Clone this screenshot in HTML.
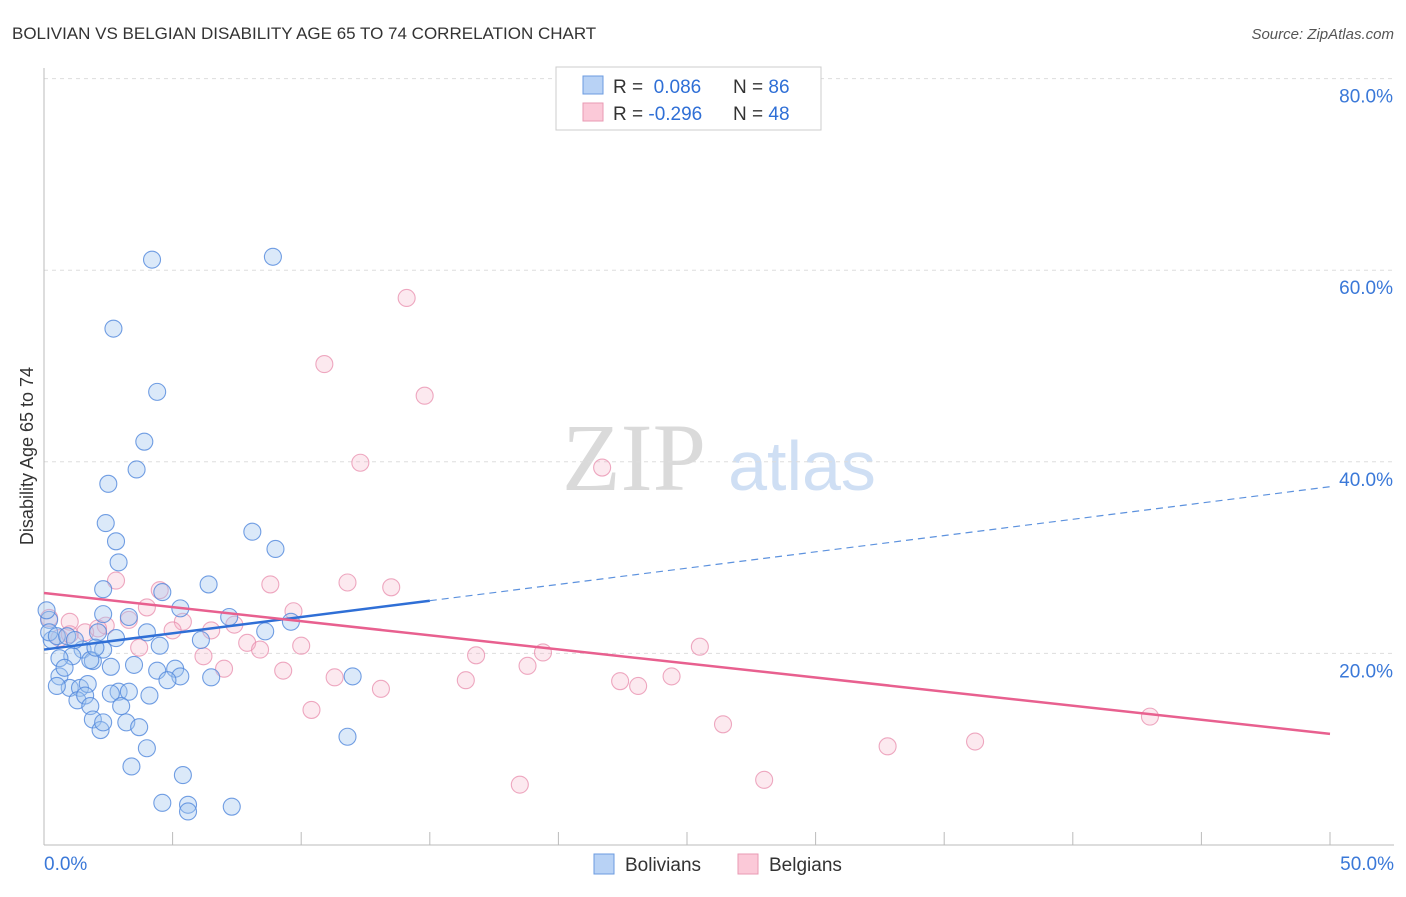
<!DOCTYPE html>
<html><head><meta charset="utf-8"><style>
body{margin:0;background:#fff;font-family:"Liberation Sans",sans-serif;}
svg text{font-family:"Liberation Sans",sans-serif;}
</style></head><body>
<svg id="chart" width="1406" height="892">
<text x="12" y="39" font-size="17" fill="#333">BOLIVIAN VS BELGIAN DISABILITY AGE 65 TO 74 CORRELATION CHART</text>
<text x="1394" y="39" font-size="15" fill="#555" font-style="italic" text-anchor="end">Source: ZipAtlas.com</text>
<text x="634" y="490" font-size="96" fill="#dadada" style="font-family:'Liberation Serif',serif" text-anchor="middle">ZIP</text>
<text x="802" y="490" font-size="70" fill="#cfdff4" text-anchor="middle">atlas</text>
<text transform="translate(33,456) rotate(-90)" font-size="18" fill="#333" text-anchor="middle">Disability Age 65 to 74</text>
<g id="grid"></g><g id="pts"></g><g id="lines"></g>
<g>
<rect x="556" y="67" width="265" height="63" fill="#fff" stroke="#ccc"/>
<rect x="583" y="76" width="20" height="18" fill="#b8d2f5" stroke="#6b9be0"/>
<rect x="583" y="103" width="20" height="18" fill="#fbc9d8" stroke="#e89ab3"/>
<text x="613" y="93" font-size="19" fill="#333">R = <tspan fill="#2f6fd6">&#160;0.086</tspan><tspan x="733">N = </tspan><tspan fill="#2f6fd6">86</tspan></text>
<text x="613" y="120" font-size="19" fill="#333">R = <tspan fill="#2f6fd6">-0.296</tspan><tspan x="733">N = </tspan><tspan fill="#2f6fd6">48</tspan></text>
</g>
<g>
<rect x="594" y="854" width="20" height="20" fill="#b8d2f5" stroke="#6b9be0"/>
<text x="625" y="871" font-size="19" fill="#333">Bolivians</text>
<rect x="738" y="854" width="20" height="20" fill="#fbc9d8" stroke="#e89ab3"/>
<text x="769" y="871" font-size="19" fill="#333">Belgians</text>
</g>
</svg>
<script>
const yTicks=[20,40,60,80];
const xTickLabels=["0.0%","50.0%"];
const blueX=[4.2,8.9,2.7,4.4,3.9,3.6,2.5,2.4,2.8,2.9,2.3,4.6,6.4,8.1,9.0,5.3,2.3,3.3,7.2,9.6,8.6,4.0,4.5,6.1,2.8,2.1,1.5,1.1,0.6,0.3,0.2,0.1,0.2,0.5,1.9,1.8,2.6,3.5,4.4,5.1,5.3,4.8,6.5,0.6,1.0,1.4,1.7,2.9,3.3,4.1,1.3,1.6,1.8,2.6,3.0,3.2,3.7,1.9,2.2,2.3,4.0,3.4,5.4,4.6,5.6,5.6,7.3,12.0,11.8,0.9,1.2,2.3,0.8,0.5,2.0];
const blueY=[61.1,61.4,53.9,47.3,42.1,39.2,37.7,33.6,31.7,29.5,26.7,26.4,27.2,32.7,30.9,24.7,24.1,23.8,23.8,23.3,22.3,22.2,20.8,21.4,21.6,22.2,20.4,19.7,19.5,21.4,23.5,24.5,22.2,21.8,19.2,19.3,18.6,18.8,18.2,18.4,17.6,17.2,17.5,17.6,16.4,16.4,16.8,16.0,16.0,15.6,15.1,15.6,14.5,15.8,14.5,12.8,12.3,13.1,12.0,12.8,10.1,8.2,7.3,4.4,4.2,3.5,4.0,17.6,11.3,21.8,21.4,20.4,18.5,16.6,20.6];
const pinkX=[14.1,10.9,14.8,12.3,21.7,2.8,4.5,8.8,11.8,13.5,4.0,9.7,5.4,6.5,7.4,5.0,2.4,1.0,1.6,3.3,2.1,7.9,10.0,3.7,8.4,6.2,7.0,9.3,11.3,13.1,16.4,16.8,18.8,19.4,22.4,23.1,24.4,25.5,26.4,10.4,18.5,28.0,32.8,36.2,43.0,0.2,0.6,1.0];
const pinkY=[57.1,50.2,46.9,39.9,39.4,27.6,26.6,27.2,27.4,26.9,24.8,24.4,23.3,22.4,23.0,22.4,22.9,23.3,22.2,23.5,22.6,21.1,20.8,20.6,20.4,19.7,18.4,18.2,17.5,16.3,17.2,19.8,18.7,20.1,17.1,16.6,17.6,20.7,12.6,14.1,6.3,6.8,10.3,10.8,13.4,23.7,21.6,22.0];
const blueTrend=[20.4,37.4];
const pinkTrend=[26.3,11.6];
const NS="http://www.w3.org/2000/svg";
const X=v=>44+v/50*1286, Y=v=>845-v/20*191.6;
function mk(t,a,p){const e=document.createElementNS(NS,t);for(const k in a)e.setAttribute(k,a[k]);p.appendChild(e);return e;}
const grid=document.getElementById('grid');
yTicks.forEach(t=>{
 const l=mk('line',{x1:44,x2:1394,y1:Y(t),y2:Y(t),stroke:'#ddd','stroke-dasharray':'4,4'},grid);
 
 
 const tx=mk('text',{x:1393,y:Y(t)+24,'font-size':19,fill:'#3a78d8','text-anchor':'end'},grid);
 tx.textContent=t.toFixed(1)+'%';
 
 
});
const ax=mk('line',{x1:44,x2:1394,y1:845,y2:845,stroke:'#bbb'},grid);


const ay=mk('line',{x1:44,x2:44,y1:68,y2:845,stroke:'#bbb'},grid);


for(let i=1;i<=10;i++){const t=mk('line',{x1:X(i*5),x2:X(i*5),y1:832,y2:845,stroke:'#bbb'},grid);
 
 }
[[0,'start',44],[50,'end',1394]].forEach((d,i)=>{const t=mk('text',{x:d[2],y:870,'font-size':19,fill:'#3a78d8','text-anchor':d[1]},grid);t.textContent=xTickLabels[i];
 
 });
const pts=document.getElementById('pts');
pinkX.forEach((x,i)=>{const c=mk('circle',{cx:X(x),cy:Y(pinkY[i]),r:8.5,fill:'rgba(246,175,198,0.28)',stroke:'rgba(232,140,172,0.75)','stroke-width':1.1},pts);
 
 });
blueX.forEach((x,i)=>{const c=mk('circle',{cx:X(x),cy:Y(blueY[i]),r:8.5,fill:'rgba(160,196,240,0.38)',stroke:'rgba(80,135,220,0.8)','stroke-width':1.1},pts);
 
 });
const lines=document.getElementById('lines');
const by=x=>blueTrend[0]+(blueTrend[1]-blueTrend[0])*x/50;
const b1=mk('line',{x1:X(0),y1:Y(by(0)),x2:X(15),y2:Y(by(15)),stroke:'#2f6fd6','stroke-width':2.5},lines);


const b2=mk('line',{x1:X(15),y1:Y(by(15)),x2:X(50),y2:Y(by(50)),stroke:'#5d92de','stroke-width':1.2,'stroke-dasharray':'7,5'},lines);


const p1=mk('line',{x1:X(0),y1:Y(pinkTrend[0]),x2:X(50),y2:Y(pinkTrend[1]),stroke:'#e8608f','stroke-width':2.5},lines);


</script>
</body></html>
